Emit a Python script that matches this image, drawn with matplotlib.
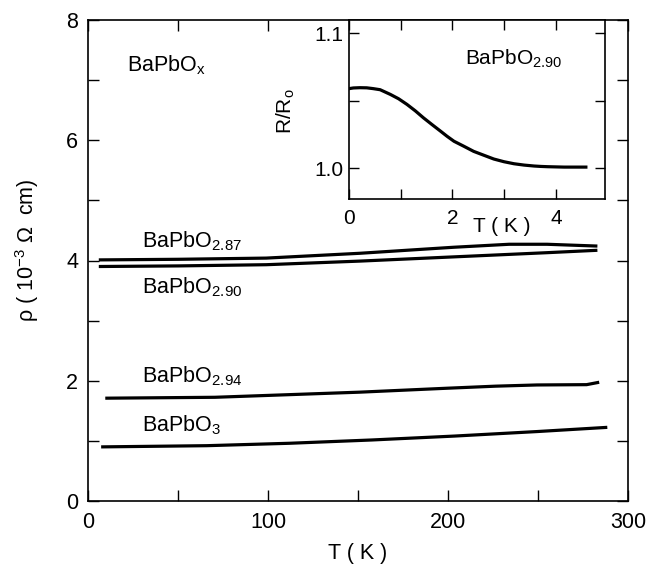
import numpy as np
import matplotlib
matplotlib.use('Agg')
import matplotlib.pyplot as plt
from matplotlib.ticker import MultipleLocator

plt.rcParams['font.family'] = ['Liberation Sans', 'DejaVu Sans']
plt.rcParams['mathtext.fontset'] = 'custom'
plt.rcParams['mathtext.rm'] = 'Liberation Sans'
plt.rcParams['mathtext.it'] = 'Liberation Sans'
plt.rcParams['mathtext.default'] = 'regular'

# main panel: resistivity vs temperature
t_287 = [6, 50, 99, 151, 203, 234, 255, 283]
rho_287 = [4.01, 4.02, 4.04, 4.12, 4.22, 4.27, 4.27, 4.24]
t_290 = [6, 50, 99, 151, 203, 255, 283]
rho_290 = [3.90, 3.91, 3.93, 3.99, 4.06, 4.13, 4.17]
t_294 = [9.6, 70.5, 150.8, 199, 226.5, 249.5, 277, 284]
rho_294 = [1.71, 1.725, 1.81, 1.875, 1.91, 1.93, 1.935, 1.975]
t_3 = [7.3, 65.9, 111.8, 157.7, 203.6, 249.5, 288.5]
rho_3 = [0.90, 0.92, 0.96, 1.015, 1.08, 1.155, 1.225]

# inset: R/R0 vs T for BaPbO2.90
t_in = [0, 0.084, 0.21, 0.343, 0.47, 0.602, 0.80, 0.958, 1.12, 1.282, 1.44, 1.605,
        1.77, 1.896, 2.03, 2.22, 2.41, 2.608, 2.80, 2.997, 3.19, 3.385, 3.58, 3.709,
        3.84, 4.16, 4.356, 4.58]
r_in = [1.0590, 1.0595, 1.0597, 1.0596, 1.0590, 1.0582, 1.0547, 1.0515, 1.0473,
        1.0425, 1.0373, 1.0323, 1.0274, 1.0236, 1.0199, 1.0162, 1.0124, 1.0095,
        1.0067, 1.0047, 1.0032, 1.0022, 1.0015, 1.0012, 1.0010, 1.0007, 1.0007, 1.0007]

W, H = 647, 565
fig = plt.figure(figsize=(W / 100, H / 100), dpi=100)
ax = fig.add_axes([88 / W, 1 - 501 / H, 540 / W, 481 / H])

lw = 2.3
for t, r in [(t_287, rho_287), (t_290, rho_290), (t_294, rho_294), (t_3, rho_3)]:
    ax.plot(t, r, color='k', lw=lw, solid_capstyle='butt', solid_joinstyle='round')

fs = 15.5
ax.set_xlim(0, 300)
ax.set_ylim(0, 8)
ax.xaxis.set_major_locator(MultipleLocator(100))
ax.xaxis.set_minor_locator(MultipleLocator(50))
ax.yaxis.set_major_locator(MultipleLocator(2))
ax.yaxis.set_minor_locator(MultipleLocator(1))
ax.tick_params(which='both', direction='in', top=True, right=True, length=8, width=1,
               labelsize=fs)
ax.tick_params(axis='x', pad=8)
ax.tick_params(axis='y', pad=7)
for s in ax.spines.values():
    s.set_linewidth(1.2)

fig.text(358 / W, 1 - 553 / H, 'T ( K )', fontsize=fs, ha='center', va='center')
fig.text(27 / W, 1 - 250 / H, 'ρ ( 10$^{-3}$ Ω  cm)', fontsize=fs, ha='center',
         va='center', rotation=90)

ax.text(21.7, 7.14, 'BaPbO$_x$', fontsize=fs, va='baseline')
ax.text(30, 4.21, 'BaPbO$_{2.87}$', fontsize=fs, va='baseline')
ax.text(30, 3.46, 'BaPbO$_{2.90}$', fontsize=fs, va='baseline')
ax.text(30, 1.98, 'BaPbO$_{2.94}$', fontsize=fs, va='baseline')
ax.text(30, 1.15, 'BaPbO$_3$', fontsize=fs, va='baseline')

# inset
ins = fig.add_axes([349 / W, 1 - 199 / H, 256 / W, 179 / H])
ins.plot(t_in, r_in, color='k', lw=lw)
ins.set_xlim(0, 4.95)
ins.set_ylim(0.977, 1.110)
ins.set_xticks([0, 1, 2, 3, 4])
ins.set_xticklabels(['0', '', '2', '', '4'])
ins.set_yticks([1.0, 1.05, 1.1])
ins.set_yticklabels(['1.0', '', '1.1'])
ins.tick_params(direction='in', top=True, right=True, length=7, width=1,
                labelsize=fs - 0.5)
ins.tick_params(axis='x', pad=7)
ins.tick_params(axis='y', pad=4)
for s in ins.spines.values():
    s.set_linewidth(1.2)
fig.text(502 / W, 1 - 226 / H, 'T ( K )', fontsize=fs - 0.5, ha='center', va='center')
fig.text(286 / W, 1 - 111 / H, 'R/R$_o$', fontsize=fs - 0.5, ha='center', va='center',
         rotation=90)
ins.text(2.25, 1.077, 'BaPbO$_{2.90}$', fontsize=fs - 0.5, va='baseline')

fig.savefig('out.png', dpi=100)
